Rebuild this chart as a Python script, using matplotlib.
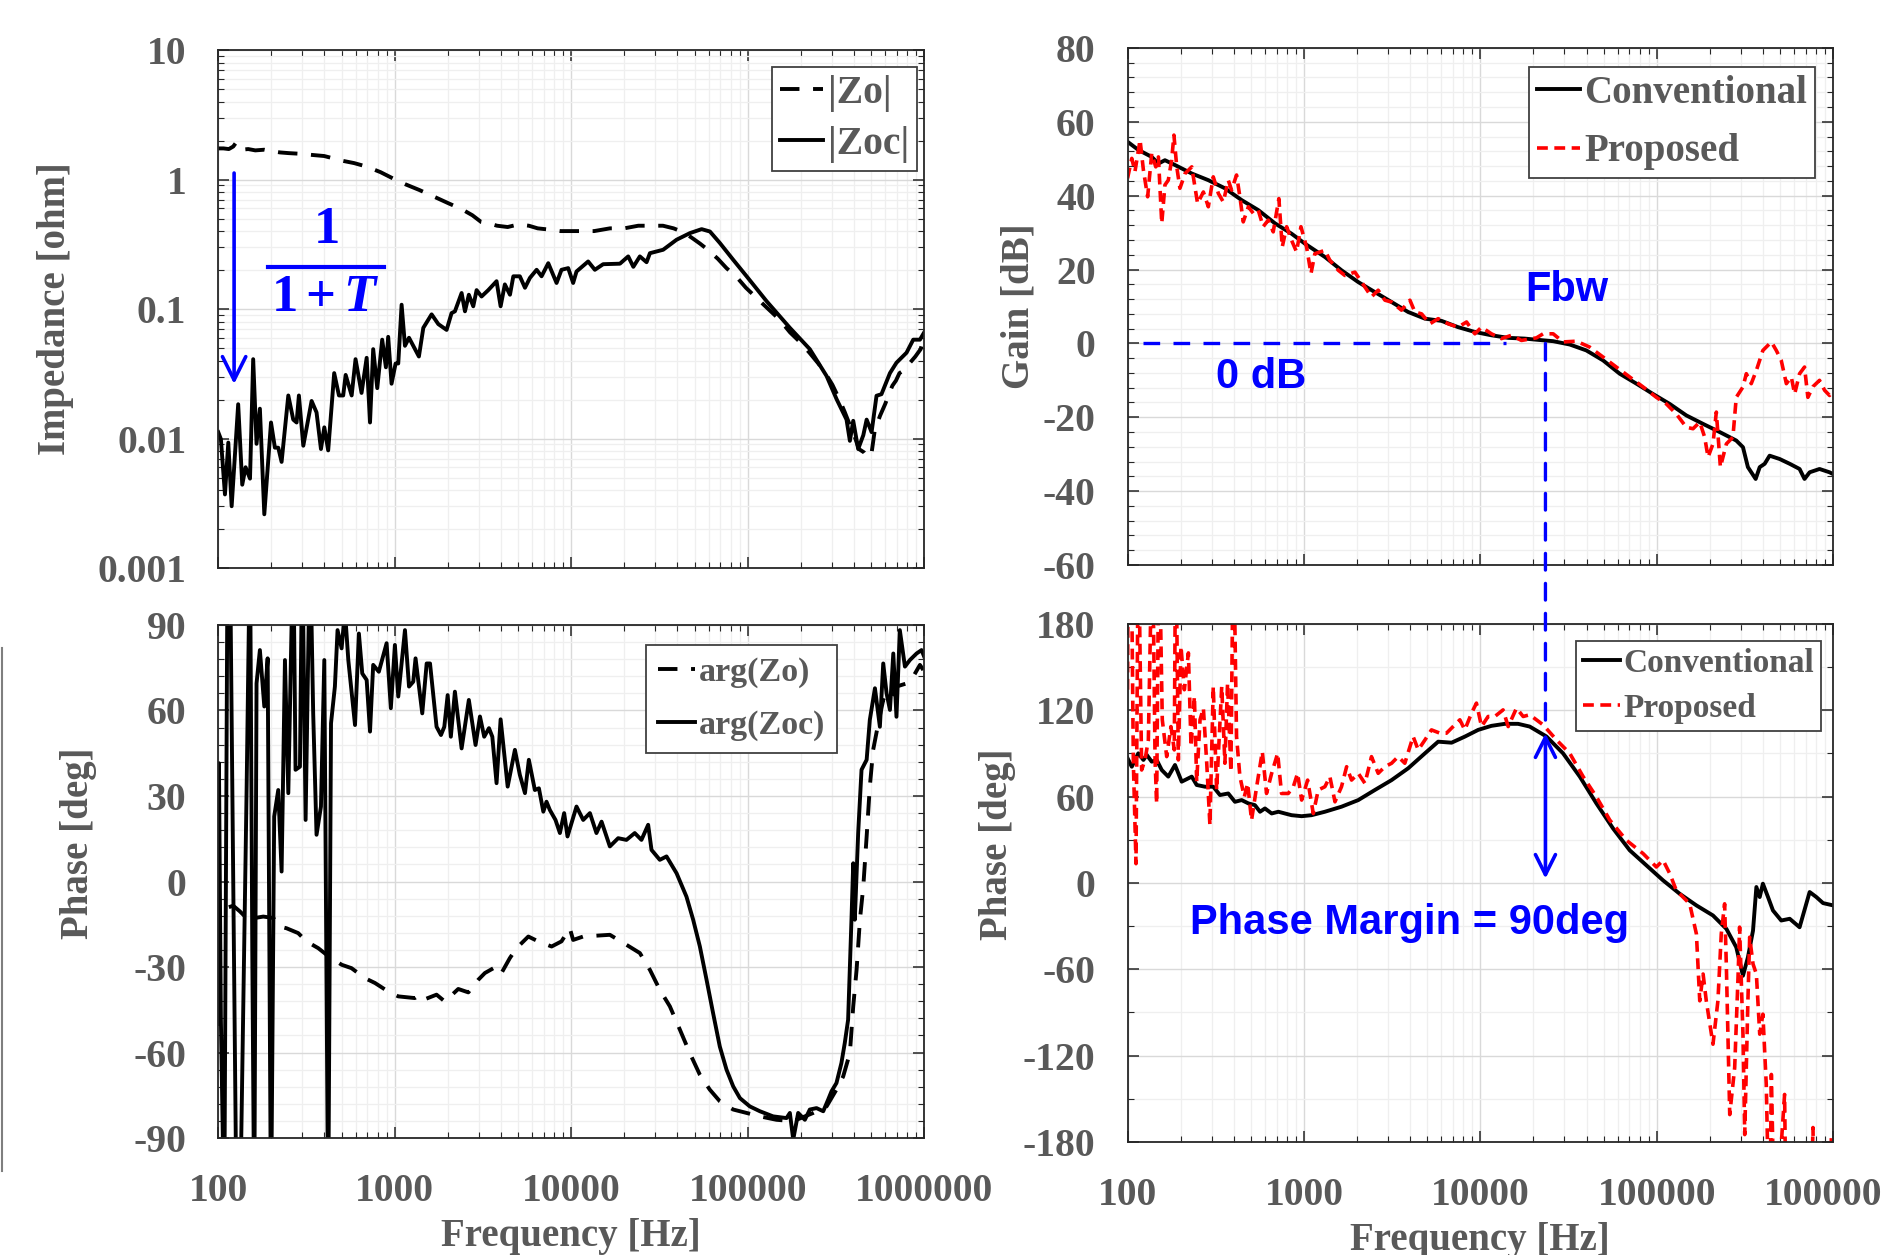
import numpy as np
import matplotlib
matplotlib.use("Agg")
import matplotlib.pyplot as plt
from matplotlib.ticker import MultipleLocator, NullFormatter, LogLocator
from matplotlib.patches import ConnectionPatch
from matplotlib.lines import Line2D

plt.rcParams['font.family'] = ['Liberation Serif', 'DejaVu Serif']
plt.rcParams['font.weight'] = 'bold'
plt.rcParams['axes.unicode_minus'] = False
plt.rcParams['mathtext.fontset'] = 'custom'
plt.rcParams['mathtext.rm'] = 'Liberation Serif:bold'
plt.rcParams['mathtext.bf'] = 'Liberation Serif:bold'
plt.rcParams['mathtext.it'] = 'Liberation Serif:italic:bold'

GRAY = '#595959'
BLUE = '#0000ff'

# ---- data (frequency stored as log10(Hz)) ----
# output impedance magnitude, open loop |Zo|
zo_logf = [2.0, 2.03, 2.06, 2.085, 2.10, 2.13, 2.17, 2.21, 2.26, 2.30, 2.35, 2.40, 2.47, 2.53,
           2.60, 2.65, 2.70, 2.77, 2.84, 2.92, 2.99, 3.06, 3.14, 3.23, 3.30, 3.38, 3.44, 3.49,
           3.53, 3.58, 3.64, 3.70, 3.76, 3.81, 3.88, 3.94, 3.98, 4.04, 4.13, 4.22, 4.30, 4.38,
           4.45, 4.52, 4.58, 4.64, 4.69, 4.73, 4.77, 4.83, 4.88, 4.94, 4.99, 5.05, 5.11, 5.18,
           5.24, 5.30, 5.35, 5.40, 5.44, 5.48, 5.52, 5.55, 5.58, 5.61, 5.63, 5.66, 5.68, 5.70,
           5.72, 5.75, 5.78, 5.80, 5.82, 5.84, 5.86, 5.89, 5.92, 5.95, 5.98, 6.0]
zo_mag = [1.74, 1.74, 1.72, 1.80, 1.92, 1.70, 1.72, 1.68, 1.70, 1.66, 1.62, 1.60, 1.58, 1.55,
          1.52, 1.46, 1.40, 1.34, 1.26, 1.14, 1.02, 0.92, 0.83, 0.73, 0.66, 0.59, 0.53, 0.47,
          0.46, 0.44, 0.43, 0.45, 0.44, 0.42, 0.41, 0.40, 0.40, 0.40, 0.40, 0.42, 0.42, 0.44,
          0.44, 0.44, 0.42, 0.39, 0.35, 0.32, 0.29, 0.245, 0.207, 0.175, 0.146, 0.122, 0.102, 0.083,
          0.066, 0.055, 0.046, 0.038, 0.032, 0.026, 0.020, 0.016, 0.0126, 0.010, 0.0083, 0.0078, 0.0072, 0.0074,
          0.0116, 0.015, 0.0186, 0.022, 0.0256, 0.028, 0.032, 0.034, 0.0385, 0.043, 0.049, 0.062]

# closed loop |Zoc|
zoc_logf = [2.0, 2.015, 2.038, 2.057, 2.076, 2.113, 2.136, 2.155, 2.18, 2.198, 2.217, 2.236, 2.261,
            2.299, 2.321, 2.34, 2.359, 2.397, 2.425, 2.444, 2.457, 2.482, 2.529, 2.557, 2.582, 2.601,
            2.623, 2.657, 2.684, 2.708, 2.722, 2.756, 2.778, 2.812, 2.841, 2.86, 2.878, 2.901, 2.929,
            2.95, 2.963, 2.982, 3.005, 3.02, 3.039, 3.058, 3.081, 3.105, 3.137, 3.162, 3.209, 3.247,
            3.294, 3.322, 3.341, 3.379, 3.398, 3.42, 3.445, 3.464, 3.492, 3.53, 3.577, 3.6, 3.624,
            3.653, 3.672, 3.709, 3.738, 3.766, 3.804, 3.832, 3.87, 3.917, 3.945, 3.983, 4.011, 4.03,
            4.096, 4.134, 4.181, 4.276, 4.323, 4.352, 4.389, 4.427, 4.446, 4.521, 4.597, 4.673, 4.739,
            4.786, 4.842, 4.918, 4.994, 5.107, 5.239, 5.352, 5.447, 5.504, 5.56, 5.579, 5.598, 5.626,
            5.655, 5.674, 5.702, 5.73, 5.758, 5.806, 5.843, 5.9, 5.938, 5.976, 6.0]
zoc_mag = [0.0112, 0.0099, 0.0037, 0.0093, 0.0030, 0.0184, 0.0044, 0.006, 0.0049, 0.041, 0.0091, 0.017, 0.0026,
           0.0133, 0.0085, 0.0085, 0.0066, 0.0215, 0.014, 0.0133, 0.0215, 0.0088, 0.0195, 0.0159, 0.0083, 0.0122,
           0.0081, 0.032, 0.0215, 0.0215, 0.031, 0.0215, 0.041, 0.0225, 0.042, 0.0133, 0.049, 0.0245, 0.058,
           0.0355, 0.061, 0.0265, 0.038, 0.038, 0.108, 0.052, 0.060, 0.052, 0.043, 0.0716, 0.091, 0.0765,
           0.069, 0.093, 0.096, 0.133, 0.096, 0.129, 0.105, 0.14, 0.125, 0.14, 0.164, 0.105, 0.155,
           0.129, 0.179, 0.179, 0.146, 0.174, 0.201, 0.179, 0.226, 0.159, 0.201, 0.207, 0.159, 0.195,
           0.233, 0.201, 0.222, 0.224, 0.255, 0.212, 0.255, 0.23, 0.27, 0.287, 0.343, 0.386, 0.414,
           0.397, 0.324, 0.24, 0.179, 0.115, 0.0716, 0.049, 0.0304, 0.0201, 0.014, 0.0096, 0.0137, 0.0083,
           0.0106, 0.014, 0.0112, 0.0214, 0.022, 0.032, 0.0385, 0.046, 0.058, 0.058, 0.066]

# phase of Zo
azo_logf = [2.06, 2.085, 2.123, 2.17, 2.208, 2.255, 2.312, 2.349, 2.387, 2.453, 2.50, 2.567, 2.614,
            2.699, 2.755, 2.831, 2.888, 2.963, 3.02, 3.114, 3.143, 3.171, 3.237, 3.284, 3.36, 3.417,
            3.473, 3.511, 3.577, 3.605, 3.652, 3.69, 3.757, 3.813, 3.889, 3.945, 3.992, 4.011, 4.068,
            4.219, 4.313, 4.389, 4.446, 4.502, 4.559, 4.616, 4.672, 4.729, 4.785, 4.842, 4.918, 4.994,
            5.069, 5.163, 5.258, 5.371, 5.447, 5.503, 5.541, 5.579, 5.598, 5.617, 5.636, 5.655, 5.674,
            5.692, 5.711, 5.74, 5.768, 5.806, 5.843, 5.9, 5.938, 5.976, 5.995]
azo_deg = [-9, -8.5, -10.5, -13.4, -12.8, -12.3, -12.8, -15.8, -16.4, -18.1, -21, -23.4, -25.7,
           -29.2, -30.4, -33.9, -35.6, -38.6, -40.3, -40.9, -39.7, -41.3, -39.7, -42.1, -37.7, -38.9,
           -34.5, -32.1, -29.8, -32.1, -26.9, -23.4, -19.3, -21, -22.8, -21, -16.4, -20.5, -19.3,
           -18.7, -22.2, -25.1, -31, -38, -43.8, -52, -60.2, -67.8, -73, -77.1, -80, -81.2,
           -82.4, -83.6, -84.1, -81.2, -78.9, -73, -68.4, -60.2, -43.8, -31, -13.4, -1.8, 15.8,
           33.3, 46.2, 55.5, 63.7, 62.5, 68.4, 69.5, 71.9, 76, 74.2]

# phase of Zoc (values beyond +-90 leave the frame)
azoc_logf = [2.0, 2.004, 2.015, 2.034, 2.053, 2.066, 2.085, 2.104, 2.123, 2.161, 2.18, 2.193, 2.204,
             2.217, 2.236, 2.261, 2.28, 2.299, 2.317, 2.34, 2.359, 2.378, 2.397, 2.425, 2.438, 2.463,
             2.476, 2.495, 2.52, 2.538, 2.557, 2.582, 2.601, 2.623, 2.639, 2.661, 2.676, 2.699, 2.718,
             2.737, 2.775, 2.797, 2.816, 2.841, 2.86, 2.878, 2.91, 2.954, 2.978, 3.001, 3.02, 3.058,
             3.081, 3.105, 3.118, 3.156, 3.181, 3.2, 3.237, 3.262, 3.281, 3.3, 3.318, 3.341, 3.379,
             3.42, 3.458, 3.483, 3.507, 3.534, 3.553, 3.577, 3.6, 3.64, 3.681, 3.709, 3.738, 3.76,
             3.794, 3.817, 3.842, 3.86, 3.879, 3.911, 3.936, 3.96, 3.979, 4.03, 4.068, 4.106, 4.143,
             4.172, 4.219, 4.266, 4.313, 4.36, 4.398, 4.436, 4.455, 4.502, 4.54, 4.597, 4.653, 4.691,
             4.729, 4.767, 4.804, 4.842, 4.880, 4.918, 4.956, 5.012, 5.069, 5.144, 5.22, 5.239, 5.258,
             5.286, 5.324, 5.352, 5.39, 5.428, 5.456, 5.475, 5.503, 5.531, 5.55, 5.569, 5.588, 5.598,
             5.607, 5.626, 5.645, 5.674, 5.692, 5.721, 5.749, 5.768, 5.787, 5.806, 5.825, 5.843, 5.862,
             5.891, 5.919, 5.957, 5.985, 6.0]
azoc_deg = [-50, 41.5, -48.5, -120, 120, 120, -1.7, -120, -120, 33.3, 120, -25.1, -120,
            69.5, 81.2, 61.4, 78.3, -120, 22.8, 32.1, 3.5, 77.7, 31, 120, 39.2, 40.3,
            120, 21.6, 120, 59, 16.4, 26.3, 77.7, -120, 55.5, 68.4, 88.2, 81.8, 95,
            77.7, 54.9, 87, 73, 70.7, 52.6, 76, 73.6, 83.6, 60.8, 83, 64.9, 88.2,
            68.4, 70.1, 78.3, 59, 76.5, 76.5, 54.3, 51.4, 54.3, 65.4, 50.8, 66.6, 46.7,
            63.7, 47.9, 57.9, 50.8, 53.8, 50.8, 34.5, 56.9, 33.3, 46.2, 37.4, 31, 42.7,
            32.1, 32.7, 24.5, 28, 25.1, 21.6, 17, 24, 15.8, 26.3, 21.6, 24, 17,
            21, 12.3, 15.2, 14.6, 17, 14.6, 19.9, 11.1, 7.6, 8.8, 2.9, -5.3, -13.4,
            -22.8, -34.5, -46.2, -57.9, -66, -71.9, -76, -78.9, -80.6, -82.4, -83, -81.2, -90.5,
            -81.2, -83.6, -80, -79.5, -80.6, -76.5, -73.6, -70.7, -63.7, -56.7, -48.5, -13.4, 6.4,
            -13.4, 17, 39.2, 42.7, 56.7, 67.8, 54.3, 76.5, 66, 60.2, 80, 57.8, 88.2,
            75.4, 77.7, 80, 81.2, 78.9]

# loop gain, conventional
gc_logf = [2.0, 2.061, 2.137, 2.175, 2.212, 2.269, 2.364, 2.458, 2.552, 2.647, 2.741, 2.836, 2.93,
           3.006, 3.119, 3.213, 3.308, 3.402, 3.497, 3.591, 3.686, 3.78, 3.874, 3.969, 4.063, 4.158,
           4.252, 4.318, 4.413, 4.507, 4.601, 4.696, 4.79, 4.885, 4.979, 5.074, 5.168, 5.263, 5.357,
           5.451, 5.489, 5.517, 5.561, 5.584, 5.612, 5.64, 5.697, 5.754, 5.81, 5.838, 5.867, 5.923,
           5.98, 6.0]
gc_db = [54.6, 52.4, 50.5, 48.7, 49.6, 48.3, 46.0, 44.2, 42.0, 38.8, 36.1, 32.5, 29.7,
         27.0, 23.4, 19.8, 16.6, 13.9, 11.2, 8.5, 6.7, 6.1, 4.4, 3.1, 2.2, 1.5,
         1.3, 1.0, 0.6, -0.3, -1.9, -4.6, -8.2, -10.9, -13.7, -16.4, -19.5, -21.8, -24.0,
         -26.3, -28.1, -33.5, -36.7, -33.5, -32.6, -30.4, -31.3, -32.6, -34.0, -36.7, -34.9, -34.0,
         -34.9, -35.4]

# loop gain, proposed
gp_logf = [2.0, 2.024, 2.042, 2.071, 2.09, 2.114, 2.137, 2.16, 2.175, 2.194, 2.212, 2.231, 2.25,
           2.263, 2.279, 2.297, 2.326, 2.364, 2.397, 2.43, 2.458, 2.486, 2.515, 2.543, 2.571, 2.59,
           2.618, 2.637, 2.656, 2.685, 2.713, 2.741, 2.769, 2.798, 2.826, 2.858, 2.877, 2.902, 2.93,
           2.958, 2.983, 3.015, 3.04, 3.062, 3.119, 3.147, 3.195, 3.232, 3.289, 3.327, 3.383, 3.421,
           3.459, 3.497, 3.553, 3.601, 3.629, 3.667, 3.714, 3.761, 3.818, 3.874, 3.922, 3.969, 4.007,
           4.063, 4.12, 4.177, 4.233, 4.318, 4.356, 4.413, 4.469, 4.545, 4.62, 4.696, 4.771, 4.847,
           4.923, 4.998, 5.055, 5.111, 5.168, 5.206, 5.244, 5.272, 5.291, 5.319, 5.338, 5.361, 5.395,
           5.432, 5.451, 5.489, 5.508, 5.536, 5.565, 5.602, 5.65, 5.678, 5.706, 5.735, 5.763, 5.782,
           5.81, 5.838, 5.857, 5.886, 5.923, 5.952, 5.98, 6.0]
gp_db = [44.7, 50.1, 46.5, 55.1, 46.9, 39.7, 51.4, 47.8, 50.5, 32.5, 42.9, 44.2, 49.6,
         56.4, 47.8, 42.0, 46.0, 47.8, 37.9, 41.0, 37.0, 45.1, 40.6, 38.3, 44.2, 41.5,
         45.6, 39.7, 32.9, 37.0, 35.2, 36.1, 31.6, 33.4, 30.2, 39.2, 26.1, 31.6, 27.9,
         24.8, 31.6, 26.1, 18.9, 24.3, 25.2, 22.5, 19.8, 18.4, 19.3, 16.6, 12.6, 14.4,
         11.7, 11.2, 9.0, 11.7, 8.5, 8.0, 5.3, 6.7, 5.3, 4.4, 5.8, 2.6, 4.4,
         2.6, 1.3, 2.2, 0.8, 1.5, 2.6, 2.6, 0.4, 0.6, -1.0, -3.7, -6.4, -9.1,
         -11.8, -14.6, -16.4, -19.1, -22.7, -23.1, -21.3, -25.4, -30.8, -27.2, -18.6, -33.5, -27.2,
         -25.4, -14.6, -11.8, -8.2, -10.9, -7.3, -1.9, 0.4, -1.9, -4.6, -10.9, -9.1, -13.7,
         -8.2, -6.4, -14.6, -11.7, -10.0, -12.7, -14.1, -12.7]

# loop phase, conventional
pc_logf = [2.0, 2.024, 2.061, 2.09, 2.109, 2.137, 2.165, 2.194, 2.231, 2.269, 2.307, 2.364, 2.392,
           2.439, 2.486, 2.524, 2.571, 2.609, 2.647, 2.685, 2.722, 2.751, 2.779, 2.817, 2.855, 2.892,
           2.93, 2.987, 3.043, 3.119, 3.213, 3.308, 3.402, 3.497, 3.591, 3.686, 3.761, 3.837, 3.912,
           3.988, 4.063, 4.139, 4.214, 4.28, 4.375, 4.469, 4.564, 4.658, 4.753, 4.847, 4.941, 5.036,
           5.13, 5.225, 5.319, 5.395, 5.451, 5.489, 5.517, 5.546, 5.565, 5.584, 5.602, 5.631, 5.659,
           5.706, 5.754, 5.81, 5.867, 5.905, 5.943, 6.0]
pc_deg = [86.7, 80.8, 90.1, 85.5, 89.0, 84.3, 85.5, 78.5, 73.9, 82.0, 70.4, 73.9, 68.1,
          66.9, 66.9, 61.1, 62.2, 56.4, 57.6, 55.3, 54.1, 49.5, 51.8, 48.3, 49.5, 48.3,
          47.1, 46.4, 47.1, 49.5, 53.0, 57.6, 64.6, 71.5, 79.7, 90.1, 98.2, 97.5, 101.7,
          106.4, 109.2, 110.6, 110.6, 108.7, 101.8, 90.1, 73.9, 55.3, 37.8, 22.7, 12.3, 1.8,
          -7.5, -15.6, -22.6, -31.9, -44.7, -64.5, -51.7, -33.1, -2.8, -9.8, -0.5, -9.8, -19.1,
          -26.1, -24.9, -30.8, -6.3, -9.8, -14.0, -15.6]

# loop phase, proposed (values beyond +-180 leave the frame)
pp_logf = [2.0, 2.004, 2.02, 2.033, 2.048, 2.061, 2.08, 2.099, 2.118, 2.141, 2.156, 2.165, 2.178,
           2.197, 2.222, 2.246, 2.265, 2.273, 2.288, 2.303, 2.322, 2.345, 2.36, 2.379, 2.392, 2.411,
           2.43, 2.449, 2.467, 2.486, 2.505, 2.534, 2.552, 2.567, 2.586, 2.60, 2.618, 2.637, 2.662,
           2.681, 2.703, 2.732, 2.764, 2.788, 2.817, 2.851, 2.873, 2.911, 2.94, 2.964, 2.987, 3.021,
           3.053, 3.081, 3.119, 3.147, 3.176, 3.213, 3.242, 3.27, 3.308, 3.346, 3.383, 3.421, 3.459,
           3.497, 3.534, 3.572, 3.619, 3.648, 3.686, 3.723, 3.771, 3.808, 3.846, 3.884, 3.912, 3.95,
           3.978, 4.007, 4.044, 4.082, 4.129, 4.158, 4.205, 4.243, 4.28, 4.356, 4.432, 4.507, 4.583,
           4.658, 4.734, 4.828, 4.923, 4.998, 5.036, 5.074, 5.111, 5.149, 5.187, 5.225, 5.244, 5.263,
           5.281, 5.319, 5.347, 5.366, 5.385, 5.395, 5.414, 5.442, 5.461, 5.47, 5.489, 5.499, 5.517,
           5.527, 5.546, 5.565, 5.584, 5.602, 5.621, 5.64, 5.65, 5.669, 5.725, 5.735, 5.87, 5.886,
           5.895, 5.975, 5.99, 6.0]
pp_deg = [134.3, 250, 250, 83.2, 13.4, 250, 78.5, 85.5, 99.4, 250, 85.5, 55.3, 250,
          113.4, 87.8, 108.7, 92.5, 250, 85.5, 164.5, 134.3, 159.9, 94.8, 129.7, 70.4, 113.4,
          121.5, 83.2, 40.2, 136.6, 64.6, 136.6, 83.2, 138.9, 77.3, 250, 101.8, 73.9, 59.9,
          69.2, 43.6, 66.9, 91.3, 62.2, 76.2, 90.1, 62.2, 62.2, 66.9, 76.2, 57.6, 71.5,
          48.3, 64.6, 66.9, 73.9, 56.4, 66.9, 80.8, 71.5, 76.2, 69.2, 87.8, 76.2, 80.8,
          83.2, 87.8, 83.2, 101.8, 92.5, 99.4, 106.4, 104.1, 104.1, 108.7, 113.4, 106.4, 118.0,
          125.0, 108.7, 115.7, 115.7, 120.3, 108.7, 121.5, 115.7, 116.9, 109.9, 99.4, 90.1, 73.9,
          59.9, 43.7, 29.7, 20.4, 11.1, 15.8, 6.5, -5.1, -9.8, -14.5, -35.4, -81.9, -63.3,
          -81.9, -112.1, -81.9, -35.4, -14.5, -58.6, -161, -128.4, -65.6, -30.7, -105.1, -174.9, -81.9,
          -37.7, -56.3, -63.3, -105.1, -91.2, -140, -250, -133.1, -250, -147, -250, -250, -170,
          -250, -250, -177, -250]

FBW = 23400  # crossover frequency [Hz]

# ---- figure ----
fig = plt.figure(figsize=(18.83, 12.55), dpi=100)
ax_z = fig.add_axes([0.1159, 0.5474, 0.3749, 0.4127])
ax_az = fig.add_axes([0.1159, 0.0932, 0.3749, 0.4088])
ax_g = fig.add_axes([0.5988, 0.5498, 0.3747, 0.4120])
ax_p = fig.add_axes([0.5988, 0.0901, 0.3747, 0.4127])

freq_ticks = [100, 1000, 10000, 100000, 1000000]
freq_labels = ['100', '1000', '10000', '100000', '1000000']
TICK_SIZE = 28.5


def style(ax, show_xlabels):
    ax.set_xscale('log')
    ax.set_xlim(100, 1e6)
    ax.set_xticks(freq_ticks)
    ax.set_xticklabels(freq_labels if show_xlabels else [])
    ax.xaxis.set_minor_locator(LogLocator(base=10, subs=np.arange(2, 10)))
    ax.xaxis.set_minor_formatter(NullFormatter())
    ax.set_axisbelow(True)
    ax.grid(True, which='major', color='#d9d9d9', lw=1.0)
    ax.grid(True, which='minor', color='#efefef', lw=0.9)
    ax.tick_params(which='both', direction='in', top=True, right=True,
                   color='#262626', labelcolor=GRAY, labelsize=TICK_SIZE)
    ax.tick_params(axis='x', pad=25)
    ax.tick_params(axis='y', pad=23)
    ax.tick_params(which='major', length=8, width=1.1)
    ax.tick_params(which='minor', length=4, width=0.8)
    for sp in ax.spines.values():
        sp.set_linewidth(1.3)
        sp.set_color('#262626')
    for lab in ax.get_xticklabels() + ax.get_yticklabels():
        lab.set_fontweight('bold')
    if show_xlabels:
        ax.set_xlabel('Frequency [Hz]', fontsize=28, fontweight='bold', color=GRAY)
        ax.xaxis.set_label_coords(0.5, -0.155)


def add_legend(ax, anchor, size, spacing, bpad):
    leg = ax.legend(loc='upper right', bbox_to_anchor=anchor, borderaxespad=0,
                    prop=dict(family='Liberation Serif', weight='bold', size=size),
                    labelcolor=GRAY, handlelength=1.1, handletextpad=0.12,
                    borderpad=bpad, labelspacing=spacing, fancybox=False,
                    edgecolor='#404040', framealpha=1)
    leg.get_frame().set_linewidth(1.3)


black_dash = (0, (5, 3.5))
red_dash = (0, (3, 1.8))

# impedance magnitude
ax_z.plot(10 ** np.array(zo_logf), zo_mag, color='black', lw=2.8, ls=black_dash, label='|Zo|')
ax_z.plot(10 ** np.array(zoc_logf), zoc_mag, color='black', lw=2.8, label='|Zoc|')
ax_z.set_yscale('log')
ax_z.set_ylim(0.001, 10)
style(ax_z, False)
ax_z.set_yticks([0.001, 0.01, 0.1, 1, 10])
ax_z.set_yticklabels(['0.001', '0.01', '0.1', '1', '10'], fontweight='bold')
ax_z.yaxis.set_minor_formatter(NullFormatter())
ax_z.set_ylabel('Impedance [ohm]', fontsize=28, fontweight='bold', color=GRAY)
ax_z.yaxis.set_label_coords(-0.205, 0.5)
add_legend(ax_z, (0.99, 0.967), 28.5, 0.36, 0.2)

ax_z.annotate('', xy=(123, 0.0251), xytext=(123, 1.18),
              arrowprops=dict(arrowstyle='->', color=BLUE, lw=2.6, mutation_scale=42))
ax_z.text(411, 0.41, '1', color=BLUE, fontsize=38, fontweight='bold', ha='center', va='center')
ax_z.plot([192, 871], [0.212, 0.212], color=BLUE, lw=3)
ax_z.text(405, 0.122, r'$\mathbf{1+}\mathit{T}$', color=BLUE, fontsize=38, ha='center', va='center')

# impedance phase
ax_az.plot(10 ** np.array(azo_logf), azo_deg, color='black', lw=2.8, ls=black_dash, label='arg(Zo)')
ax_az.plot(10 ** np.array(azoc_logf), azoc_deg, color='black', lw=2.8, label='arg(Zoc)')
ax_az.set_ylim(-90, 90)
ax_az.set_yticks(np.arange(-90, 91, 30))
ax_az.yaxis.set_minor_locator(MultipleLocator(6))
style(ax_az, True)
ax_az.set_ylabel('Phase [deg]', fontsize=28, fontweight='bold', color=GRAY)
ax_az.yaxis.set_label_coords(-0.172, 0.575)
add_legend(ax_az, (0.877, 0.961), 24.5, 0.63, 0.35)

# loop gain
ax_g.plot(10 ** np.array(gc_logf), gc_db, color='black', lw=2.8, label='Conventional')
ax_g.plot(10 ** np.array(gp_logf), gp_db, color='red', lw=2.6, ls=red_dash, label='Proposed')
ax_g.set_ylim(-60, 80)
ax_g.set_yticks(np.arange(-60, 81, 20))
ax_g.yaxis.set_minor_locator(MultipleLocator(4))
style(ax_g, False)
ax_g.set_ylabel('Gain [dB]', fontsize=28, fontweight='bold', color=GRAY)
ax_g.yaxis.set_label_coords(-0.127, 0.5)
add_legend(ax_g, (0.9745, 0.963), 28, 0.55, 0.2)

ax_g.plot([123, 14000], [0, 0], color=BLUE, lw=2.4, ls=(0, (5, 4)))
ax_g.text(30900, 14.4, 'Fbw', color=BLUE, fontsize=30, fontweight='bold',
          family='Liberation Sans', ha='center', va='center')
ax_g.text(573, -9, '0 dB', color=BLUE, fontsize=30, fontweight='bold',
          family='Liberation Sans', ha='center', va='center')

# loop phase
ax_p.plot(10 ** np.array(pc_logf), pc_deg, color='black', lw=2.8, label='Conventional')
ax_p.plot(10 ** np.array(pp_logf), pp_deg, color='red', lw=2.6, ls=red_dash, label='Proposed')
ax_p.set_ylim(-180, 180)
ax_p.set_yticks(np.arange(-180, 181, 60))
ax_p.yaxis.set_minor_locator(MultipleLocator(30))
style(ax_p, True)
ax_p.set_ylabel('Phase [deg]', fontsize=28, fontweight='bold', color=GRAY)
ax_p.yaxis.set_label_coords(-0.158, 0.575)
add_legend(ax_p, (0.983, 0.967), 24, 0.43, 0.2)

ax_p.annotate('', xy=(FBW, 3), xytext=(FBW, 104),
              arrowprops=dict(arrowstyle='<->', color=BLUE, lw=2.6, mutation_scale=36,
                              shrinkA=0, shrinkB=0))
ax_p.text(3981, -27.5, 'Phase Margin = 90deg', color=BLUE, fontsize=30, fontweight='bold',
          family='Liberation Sans', ha='center', va='center')

# crossover marker running from the gain plot down into the phase plot
con = ConnectionPatch(xyA=(FBW, 0), coordsA=ax_g.transData, xyB=(FBW, 104), coordsB=ax_p.transData,
                      color=BLUE, lw=2.4, ls=(0, (5, 4)), zorder=5)
fig.add_artist(con)

# thin edge line left by the original crop
fig.add_artist(Line2D([0.0008, 0.0008], [1 - 1171 / 1255, 1 - 648 / 1255], color='#7f7f7f', lw=1.5))

fig.savefig('out.png', dpi=100)
